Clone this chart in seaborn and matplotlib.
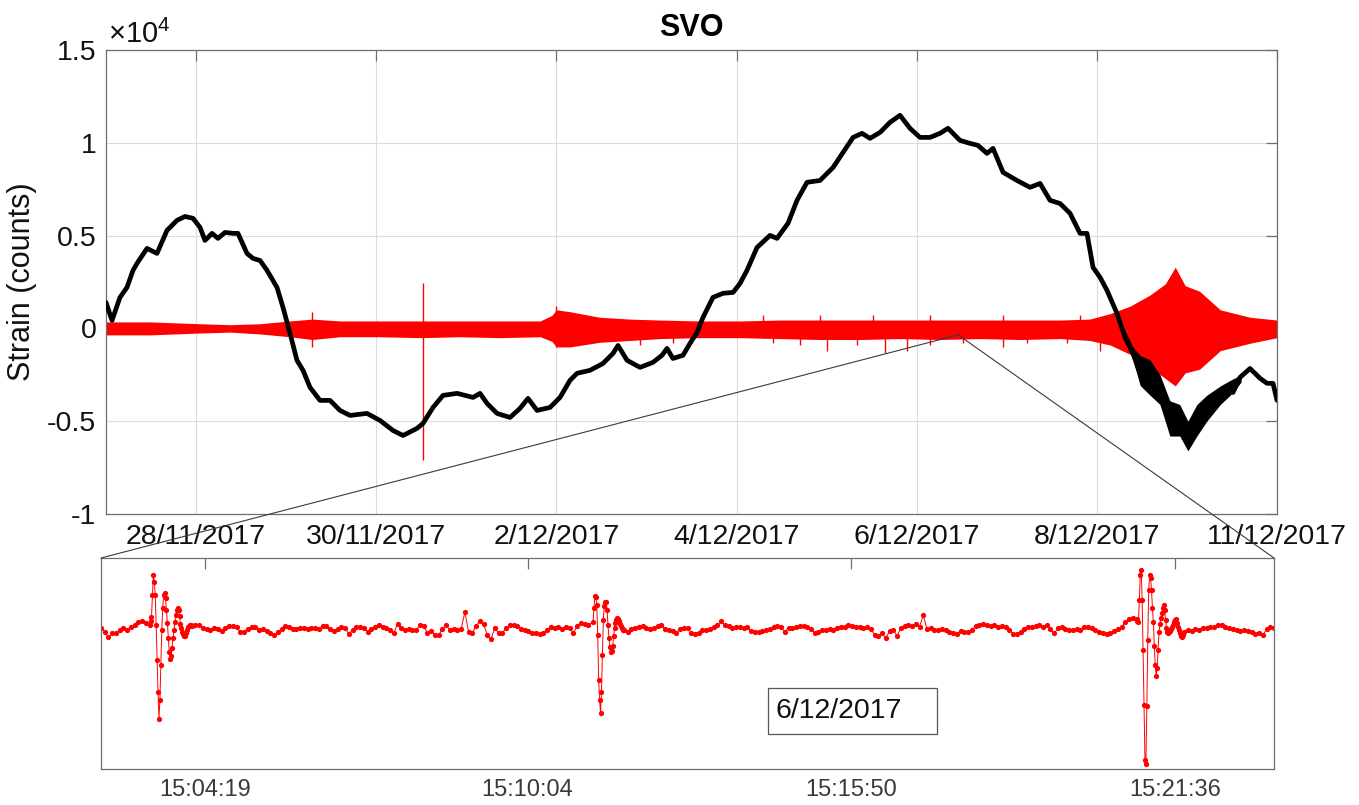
"""
SVO strain record (top) with a zoomed window of 6/12/2017 (bottom).
"""
import numpy as np
import pandas as pd
import matplotlib
matplotlib.use("Agg")
import matplotlib.pyplot as plt
from matplotlib.patches import ConnectionPatch, Rectangle
import seaborn as sns

# ──────────────────────────────────────────────────────────────────────────────
# Data – top panel (x: days since 27/11/2017 00:00, y: strain in 1e4 counts)
# ──────────────────────────────────────────────────────────────────────────────
STRAIN_DAYS = [0.000, 0.067, 0.155, 0.233, 0.300, 0.344, 0.455, 0.566, 0.677, 0.788,
               0.877, 0.966, 1.044, 1.099, 1.177, 1.243, 1.321, 1.410, 1.465, 1.565,
               1.632, 1.710, 1.787, 1.898, 1.965, 2.043, 2.120, 2.187, 2.265, 2.376,
               2.487, 2.598, 2.709, 2.897, 3.042, 3.186, 3.297, 3.452, 3.519, 3.630,
               3.741, 3.897, 4.074, 4.152, 4.230, 4.341, 4.485, 4.596, 4.685, 4.785,
               4.929, 5.040, 5.151, 5.229, 5.373, 5.517, 5.628, 5.684, 5.784, 5.928,
               6.072, 6.172, 6.228, 6.294, 6.405, 6.483, 6.561, 6.627, 6.738, 6.849,
               6.961, 7.038, 7.116, 7.227, 7.371, 7.449, 7.571, 7.671, 7.782, 7.926,
               8.071, 8.293, 8.393, 8.481, 8.593, 8.703, 8.814, 8.925, 9.036, 9.147,
               9.258, 9.347, 9.480, 9.591, 9.680, 9.780, 9.847, 9.958, 10.113, 10.258,
               10.369, 10.480, 10.591, 10.702, 10.813, 10.890, 10.957, 11.035, 11.112, 11.223,
               11.312, 11.401, 11.479, 11.556, 11.667, 11.778, 11.845, 11.923, 12.000, 12.111,
               12.222, 12.333, 12.444, 12.511, 12.589, 12.700, 12.811, 12.889, 12.955, 13.000]
STRAIN_VALS = [0.140, 0.043, 0.167, 0.221, 0.313, 0.350, 0.431, 0.404, 0.528, 0.582,
               0.603, 0.593, 0.544, 0.474, 0.512, 0.485, 0.517, 0.512, 0.512, 0.404,
               0.377, 0.366, 0.313, 0.221, 0.113, -0.027, -0.172, -0.226, -0.318, -0.388,
               -0.388, -0.442, -0.469, -0.458, -0.496, -0.550, -0.577, -0.539, -0.512, -0.426,
               -0.361, -0.350, -0.372, -0.350, -0.404, -0.458, -0.480, -0.431, -0.377, -0.442,
               -0.426, -0.372, -0.280, -0.242, -0.226, -0.189, -0.135, -0.092, -0.172, -0.210,
               -0.183, -0.145, -0.108, -0.162, -0.145, -0.081, -0.022, 0.059, 0.167, 0.189,
               0.194, 0.242, 0.313, 0.436, 0.501, 0.485, 0.566, 0.690, 0.787, 0.797,
               0.867, 1.029, 1.051, 1.024, 1.056, 1.110, 1.148, 1.078, 1.029, 1.029,
               1.051, 1.078, 1.013, 0.997, 0.986, 0.943, 0.970, 0.841, 0.797, 0.760,
               0.781, 0.690, 0.673, 0.620, 0.512, 0.512, 0.329, 0.275, 0.205, 0.081,
               -0.048, -0.135, -0.242, -0.280, -0.334, -0.426, -0.512, -0.480, -0.603, -0.496,
               -0.426, -0.388, -0.334, -0.345, -0.264, -0.216, -0.269, -0.296, -0.296, -0.388]

# scatter of the strain trace during the 8-9/12 episode
NOISE_DAYS = [11.25, 11.40, 11.48, 11.59, 11.70, 11.81, 11.92, 12.01, 12.11, 12.22, 12.37, 12.48, 12.60]
NOISE_HIGH = [0.05, -0.10, -0.146, -0.17, -0.25, -0.39, -0.41, -0.50, -0.41, -0.36, -0.31, -0.28, -0.25]
NOISE_LOW = [0.00, -0.17, -0.307, -0.36, -0.41, -0.58, -0.58, -0.66, -0.58, -0.50, -0.41, -0.36, -0.29]

# envelope of the seismic (red) trace
SEIS_DAYS = [0.0, 0.49, 1.04, 1.38, 1.71, 2.04, 2.29, 2.6, 3.04, 3.49,
             3.93, 4.37, 4.82, 4.95, 5.0, 5.15, 5.48, 5.82, 6.15, 6.59,
             7.04, 7.48, 7.93, 8.37, 8.81, 9.26, 9.7, 10.15, 10.59, 10.92,
             11.15, 11.37, 11.59, 11.76, 11.87, 11.98, 12.14, 12.37, 12.7, 13.0]
SEIS_TOP = [0.035, 0.035, 0.025, 0.02, 0.025, 0.04, 0.05, 0.04, 0.04, 0.04,
            0.04, 0.04, 0.04, 0.07, 0.10, 0.09, 0.06, 0.05, 0.045, 0.04,
            0.04, 0.045, 0.045, 0.045, 0.045, 0.045, 0.045, 0.045, 0.045, 0.05,
            0.08, 0.12, 0.18, 0.24, 0.33, 0.23, 0.20, 0.10, 0.06, 0.045]
SEIS_BOT = [-0.035, -0.035, -0.025, -0.02, -0.03, -0.045, -0.06, -0.045, -0.045, -0.05,
            -0.045, -0.05, -0.045, -0.07, -0.10, -0.10, -0.075, -0.065, -0.055, -0.05,
            -0.05, -0.055, -0.06, -0.06, -0.055, -0.06, -0.055, -0.06, -0.055, -0.065,
            -0.09, -0.14, -0.21, -0.27, -0.31, -0.24, -0.22, -0.12, -0.08, -0.05]

# isolated spikes of the red trace
SPIKE_DAYS = [2.29, 3.52, 5.00, 5.93, 6.29, 7.29, 7.40, 7.70, 7.93, 8.00,
              8.34, 8.51, 8.65, 8.89, 9.15, 9.51, 9.96, 10.22, 10.67, 10.81, 11.03]
SPIKE_TOP = [0.09, 0.242, 0.12, 0.04, 0.04, 0.07, 0.04, 0.04, 0.07, 0.04,
             0.04, 0.07, 0.04, 0.04, 0.07, 0.04, 0.07, 0.04, 0.04, 0.07, 0.04]
SPIKE_BOT = [-0.10, -0.711, -0.10, -0.09, -0.08, -0.05, -0.08, -0.09, -0.05, -0.12,
             -0.09, -0.05, -0.13, -0.12, -0.09, -0.08, -0.10, -0.08, -0.08, -0.05, -0.12]

DATE_TICKS = [1, 3, 5, 7, 9, 11, 13]
DATE_LABELS = ["28/11/2017", "30/11/2017", "2/12/2017", "4/12/2017",
               "6/12/2017", "8/12/2017", "11/12/2017"]
STRAIN_TICKS = [-1, -0.5, 0, 0.5, 1, 1.5]
STRAIN_LABELS = ["-1", "-0.5", "0", "0.5", "1", "1.5"]

# location of the zoomed window on the top panel
ZOOM_DAY, ZOOM_LEVEL = 9.46, -0.035

# ──────────────────────────────────────────────────────────────────────────────
# Data – bottom panel (x: seconds from 15:04:19, y: raw counts, relative)
# quiet parts sampled every 4 s, events every 1 s
# ──────────────────────────────────────────────────────────────────────────────
QUIET_A_START, QUIET_B_START, QUIET_C_START, QUIET_D_START = -111, -14, 448, 1047
EVENT_1_START, EVENT_2_START, EVENT_3_START = -59, 415, 996
QUIET_STEP, EVENT_STEP = 4, 1

QUIET_A = [2, -2, -7, -3, -3, 0, 2, 0, 3, 5, 8, 9, 7]
EVENT_1 = [5, 9, 13, 35, 55, 48, 35, 5, -30, -62,
           -89, -70, -35, 0, 22, 35, 37, 32, 20, 7,
           -8, -22, -29, -26, -18, -8, 0, 8, 15, 20,
           22, 20, 14, 6, 2, -2, -4, -6, -6, -3,
           0, 3, 4, 5, 5]
QUIET_B = [4, 5, 5, 2, 1, 0, 2, 1, -1, 2,
           4, 4, 3, -2, -2, 1, 3, 3, 0, 1,
           -1, -3, -5, -2, 1, 4, 3, 1, 1, 2,
           2, 1, 2, 2, 1, 4, 4, 1, -1, 1,
           3, 2, -4, 0, 3, 3, 2, -2, 1, 3,
           5, 3, 2, 0, -3, 6, 2, 0, 1, 0,
           0, 5, 4, -3, -1, -5, -5, 1, 5, 0,
           1, 0, 1, 18, -2, -3, 4, 9, 6, -5,
           -9, 2, -3, -3, 2, 5, 5, 4, 1, 0,
           -1, -3, -3, -4, -3, 0, 3, 2, 3, 1,
           3, 2, -3, 4, 7, 6, 5]
EVENT_2 = [8, 22, 34, 33, 25, -5, -50, -70, -83, -62,
           -25, 10, 24, 28, 28, 20, 5, -8, -17, -22,
           -21, -16, -6, 2, 7, 10, 12, 11, 9, 6,
           4, 2, 0]
QUIET_C = [0, -2, 1, 2, 3, 4, 2, 1, 2, 4,
           5, 1, 0, -1, -3, 1, 2, 2, -3, -4,
           -3, 0, 0, 1, 3, 5, 9, 5, 4, 2,
           3, 3, 2, 3, -1, -2, -2, -1, 0, 1,
           3, 4, 3, -2, 2, 2, 3, 4, 4, 3,
           1, -3, -2, 0, 0, 1, 0, 2, 3, 3,
           5, 4, 3, 3, 2, 3, 1, -5, -6, -3,
           -8, -1, 0, -6, 2, 4, 5, 4, 6, 3,
           15, 1, 2, 0, 0, 1, 0, -2, -3, -4,
           -1, -2, -2, 0, 4, 5, 6, 5, 4, 5,
           3, 4, 3, 0, -4, -4, -2, 1, 3, 3,
           4, 5, 3, 5, 1, -3, 2, 3, 1, 0,
           0, 1, 0, 3, 3, 2, 0, -2, -3, -4,
           -3, -1, 1, 3, 8, 11, 12]
EVENT_3 = [11, 9, 8, 30, 55, 60, 30, -20, -75, -130,
           -134, -76, -10, 40, 55, 52, 40, 22, 8, -16,
           -35, -46, -38, -20, -2, 6, 12, 17, 22, 25,
           20, 10, 2, -2, -3, -2, -1, 1, 3, 5,
           8, 10, 11, 7, 3, 0, -3, -5, -6, -7,
           -5]
QUIET_D = [-2, 0, -1, 1, 0, 2, 2, 3, 3, 5,
           5, 3, 2, 1, 0, -1, 0, -1, -2, -4,
           -3, -5, 1, 3, 2, 3]

TIME_TICKS = [0, 345, 691, 1037]
TIME_LABELS = ["15:04:19", "15:10:04", "15:15:50", "15:21:36"]
ZOOM_DATE = "6/12/2017"


def build_zoom_frame():
    parts = [(QUIET_A_START, QUIET_STEP, QUIET_A), (EVENT_1_START, EVENT_STEP, EVENT_1),
             (QUIET_B_START, QUIET_STEP, QUIET_B), (EVENT_2_START, EVENT_STEP, EVENT_2),
             (QUIET_C_START, QUIET_STEP, QUIET_C), (EVENT_3_START, EVENT_STEP, EVENT_3),
             (QUIET_D_START, QUIET_STEP, QUIET_D)]
    frames = []
    for start, step, vals in parts:
        t = start + step * np.arange(len(vals))
        frames.append(pd.DataFrame({"t": t, "counts": vals}))
    return pd.concat(frames, ignore_index=True)


# ──────────────────────────────────────────────────────────────────────────────
# Plot
# ──────────────────────────────────────────────────────────────────────────────
sns.set_theme(style="white")
plt.rcParams["font.family"] = ["Liberation Sans", "DejaVu Sans"]
plt.rcParams["mathtext.fontset"] = "custom"
plt.rcParams["mathtext.rm"] = "Liberation Sans"

SPINE = "#6e6e6e"
INK = "#111111"
RED = "#ff0000"

fig = plt.figure(figsize=(13.59, 8.05), dpi=100)
ax = fig.add_axes([0.0780, 0.3615, 0.8617, 0.5764])
axz = fig.add_axes([0.0743, 0.0447, 0.8632, 0.2621])

# top panel
ax.fill_between(SEIS_DAYS, SEIS_BOT, SEIS_TOP, color=RED, lw=0, zorder=2)
ax.vlines(SPIKE_DAYS, SPIKE_BOT, SPIKE_TOP, colors=RED, lw=1.0, zorder=2)
ax.fill_between(NOISE_DAYS, NOISE_LOW, NOISE_HIGH, color="black", lw=0, zorder=3)
sns.lineplot(x=STRAIN_DAYS, y=STRAIN_VALS, color="black", lw=3.4, ax=ax, zorder=4)

ax.set_xlim(0, 13)
ax.set_ylim(-1, 1.5)
ax.set_xticks(DATE_TICKS)
ax.set_xticklabels(DATE_LABELS)
ax.set_yticks(STRAIN_TICKS)
ax.set_yticklabels(STRAIN_LABELS)
ax.grid(True, color="#dcdcdc", lw=0.8)
ax.tick_params(direction="in", length=8, width=0.9, top=True, right=True,
               labelsize=20.5, color=SPINE, labelcolor=INK, pad=7)
for s in ax.spines.values():
    s.set_color(SPINE)
    s.set_linewidth(0.9)
ax.set_ylabel("Strain (counts)", fontsize=22, color=INK)
ax.yaxis.set_label_coords(-0.059, 0.5)
ax.set_title("SVO", fontsize=22, fontweight="bold", pad=10, color="black")
fig.text(108 / 1359, 1 - 43 / 805, r"×10$^{4}$", fontsize=21, va="baseline", color=INK)

# bottom panel
zdf = build_zoom_frame()
sns.lineplot(data=zdf, x="t", y="counts", color=RED, lw=0.7, marker="o",
             markersize=3.8, markeredgewidth=0, ax=axz)
axz.set_xlim(-111, 1143)
axz.set_ylim(-139, 72)
axz.set_yticks([])
axz.set_xticks(TIME_TICKS)
axz.set_xticklabels(TIME_LABELS)
axz.set_xlabel("")
axz.set_ylabel("")
axz.tick_params(direction="in", length=8, width=0.9, top=True,
                labelsize=17, color=SPINE, labelcolor="#3a3a3a", pad=7)
for s in axz.spines.values():
    s.set_color(SPINE)
    s.set_linewidth(0.9)

axz.add_patch(Rectangle((0.569, 0.166), 0.144, 0.218, transform=axz.transAxes,
                        facecolor="white", edgecolor="#555555", lw=0.9, zorder=5))
axz.text(0.575, 0.275, ZOOM_DATE, transform=axz.transAxes, fontsize=20.5,
         va="center", ha="left", color=INK, zorder=6)

# connector lines from the zoomed instant to the inset
for xa in (0, 1):
    con = ConnectionPatch(xyA=(ZOOM_DAY, ZOOM_LEVEL), coordsA=ax.transData,
                          xyB=(xa, 1), coordsB=axz.transAxes,
                          color="#3a3a3a", lw=0.8, zorder=10)
    fig.add_artist(con)

fig.savefig("out.png", dpi=100)
plt.close(fig)
